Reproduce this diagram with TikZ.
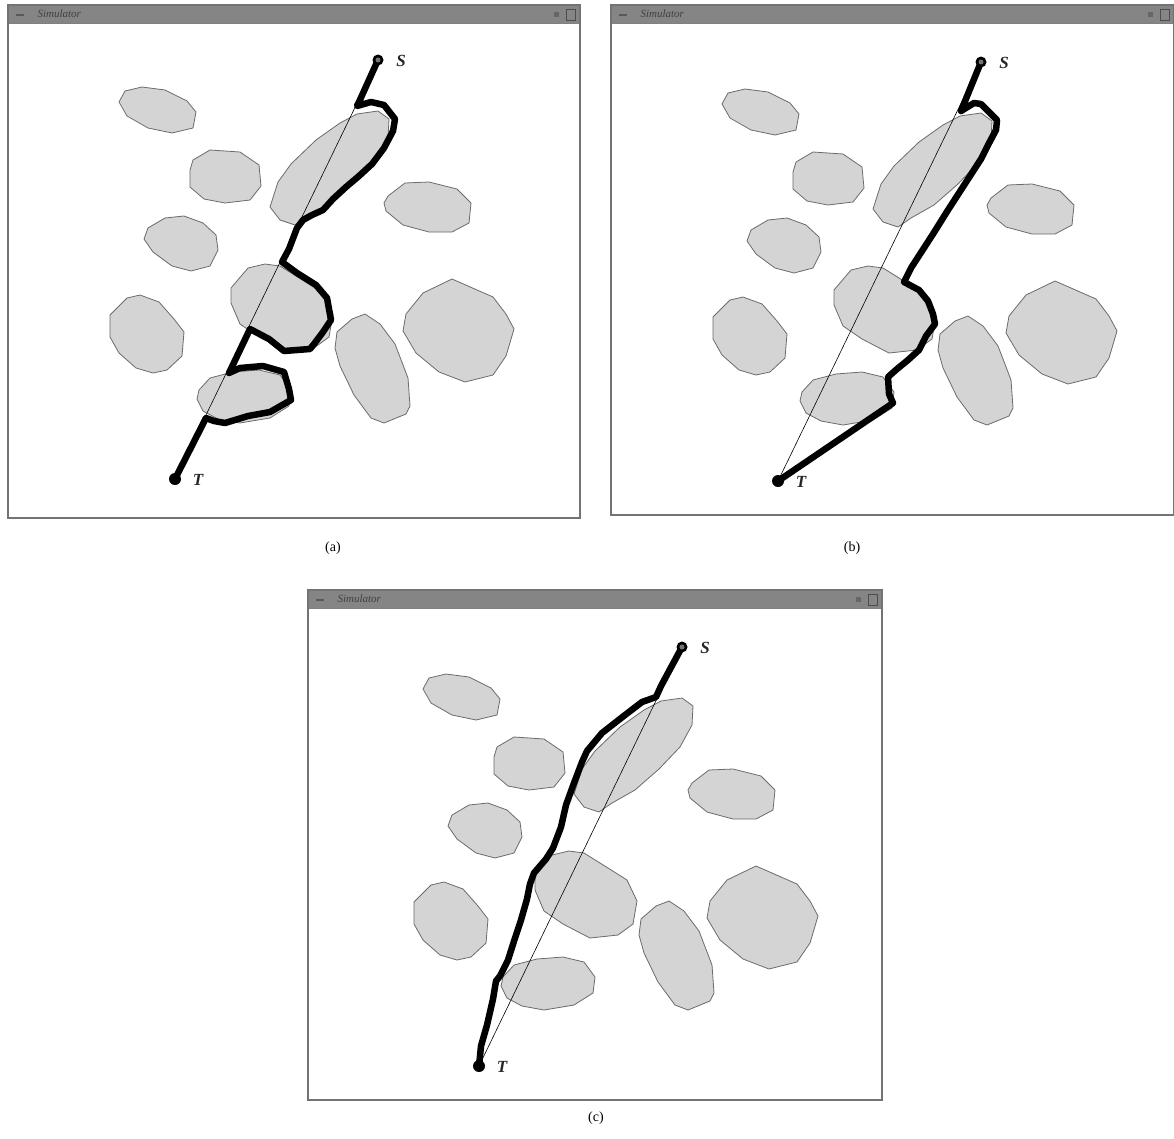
\documentclass[tikz,border=0pt]{standalone}
\usepackage{fontspec}
\setmainfont{Liberation Serif}
\definecolor{obsgray}{gray}{0.83}
\definecolor{obsedge}{gray}{0.42}
\definecolor{bargray}{gray}{0.52}

% window with title bar: name, x0, y0, x1, y1
\newcommand{\simwindow}[5]{%
  \fill[white] (#2,#3) rectangle (#4,#5);
  \fill[bargray] (#2,#3) rectangle (#4,#3+18);
  \draw[black!65,line width=1.5pt] (#2+8,#3+10)--(#2+16,#3+10);
  \node[anchor=west,text=black!75,font=\fontsize{11}{11}\selectfont\itshape] (#1title) at (#2+26,#3+9) {Simulator};
  \fill[black!60] (#4-26,#3+7) rectangle (#4-21,#3+12);
  \draw[black!70,line width=1pt] (#4-14,#3+4) rectangle (#4-5,#3+15);
  \draw[gray,line width=0.8pt] (#2,#3+18)--(#4,#3+18);
  \draw[window] (#2,#3) rectangle (#4,#5);
}

% the obstacles, same in all panels
\newcommand{\obstacles}{%
  \draw[obstacle] (111,97)--(117,86)--(134,82)--(157,85)--(179,96)--(188,107)--(185,123)--(164,128)--(140,123)--(119,111)--cycle;
  \draw[obstacle] (185,155)--(202,145)--(232,147)--(251,160)--(253,181)--(242,195)--(217,198)--(196,194)--(182,182)--(182,165)--cycle;
  \draw[obstacle] (262,202)--(270,177)--(283,159)--(308,135)--(332,118)--(349,109)--(370,106)--(381,114)--(380,133)--(368,155)--(347,177)--(323,198)--(300,211)--(287,220)--(272,215)--cycle;
  \draw[obstacle] (376,198)--(380,191)--(397,178)--(421,177)--(449,184)--(463,198)--(461,218)--(444,227)--(421,227)--(395,220)--(378,206)--cycle;
  \draw[obstacle] (140,223)--(157,213)--(176,211)--(195,218)--(208,230)--(210,245)--(202,261)--(183,266)--(164,261)--(145,247)--(136,234)--cycle;
  \draw[obstacle] (223,283)--(240,263)--(257,259)--(272,261)--(296,276)--(315,288)--(325,309)--(321,332)--(306,343)--(278,346)--(251,332)--(232,319)--(223,298)--cycle;
  \draw[obstacle] (102,310)--(119,293)--(132,290)--(151,297)--(166,314)--(176,327)--(174,351)--(159,365)--(145,368)--(128,363)--(111,348)--(102,332)--cycle;
  \draw[obstacle] (191,385)--(202,373)--(225,367)--(251,365)--(272,370)--(283,385)--(281,401)--(262,413)--(232,418)--(210,414)--(195,406)--(189,394)--cycle;
  \draw[obstacle] (329,327)--(344,314)--(357,309)--(372,319)--(387,339)--(400,373)--(402,401)--(398,409)--(376,418)--(363,413)--(346,390)--(332,361)--(327,343)--cycle;
  \draw[obstacle] (398,309)--(415,288)--(444,274)--(485,292)--(498,309)--(506,324)--(498,351)--(485,370)--(457,377)--(431,367)--(408,348)--(395,326)--cycle;
}

% start and goal markers: suffix
\newcommand{\markers}[1]{%
  \fill (S#1) circle(5.5pt);
  \fill[black!55] (S#1) circle(2.5pt);
  \fill (T#1) circle(6pt);
  \node[font=\bfseries\itshape\fontsize{17}{17}\selectfont,text=black!85] (labS#1) at (393,56) {S};
  \node[font=\bfseries\itshape\fontsize{17}{17}\selectfont,text=black!85] (labT#1) at (190,475) {T};
}

\begin{document}
\begin{tikzpicture}[x=1pt,y=-1pt,
    obstacle/.style={fill=obsgray,draw=obsedge,line width=0.8pt,line join=round},
    route/.style={line width=6.5pt,line join=round,line cap=round},
    direct/.style={line width=0.6pt},
    window/.style={draw=black!55,line width=2.5pt}]
  \useasboundingbox[fill=white] (0,0) rectangle (1174,1138);

  % (a)
  \begin{scope}[shift={(8,5)}]
    \simwindow{a}{0}{0}{572}{513}
    \obstacles
    \coordinate (Sa) at (370,55);
    \coordinate (Ta) at (167,474);
    \draw[direct] (Sa)--(Ta);
    \draw[route] (Sa)--(351,97)--(349,101)--(363,97)--(376,100)--(387,114)--(385,126)--(376,143)--(364,159)--(351,171)--(338,182)--(325,194)--(315,205)--(304,210)--(295,215)--(289,223)--(281,244)--(274,257)--(289,268)--(308,280)--(319,293)--(323,315)--(315,327)--(306,339)--(302,344)--(276,346)--(261,334)--(242,324)--(221,368)--(232,363)--(255,361)--(276,367)--(281,384)--(283,395)--(262,407)--(240,411)--(217,418)--(206,416)--(198,413)--(Ta);
    \markers{a}
  \end{scope}

  % (b)
  \begin{scope}[shift={(611,7)}]
    \simwindow{b}{0}{-2}{563}{508}
    \obstacles
    \coordinate (Sb) at (370,55);
    \coordinate (Tb) at (167,474);
    \draw[direct] (Sb)--(Tb);
    \draw[route] (Sb)--(350,104)--(363,96)--(370,97)--(386,113)--(385,123)--(377,138)--(370,152)--(359,169)--(348,186)--(337,203)--(322,227)--(311,244)--(300,261)--(293,275)--(308,283)--(317,294)--(322,307)--(324,317)--(315,329)--(308,343)--(297,353)--(286,362)--(277,370)--(278,387)--(282,396)--(Tb);
    \markers{b}
  \end{scope}

  % (c)
  \begin{scope}[shift={(312,592)}]
    \simwindow{c}{-4}{-2}{570}{508}
    \obstacles
    \coordinate (Sc) at (370,55);
    \coordinate (Tc) at (167,474);
    \draw[direct] (Sc)--(Tc);
    \draw[route] (Sc)--(349,94)--(344,105)--(330,110)--(313,123)--(290,141)--(275,159)--(270,170)--(262,191)--(254,213)--(249,235)--(241,256)--(234,267)--(222,281)--(218,292)--(215,307)--(209,328)--(203,346)--(196,368)--(188,384)--(184,389)--(181,407)--(175,433)--(169,454)--(Tc);
    \markers{c}
  \end{scope}

  \node[font=\fontsize{14}{14}\selectfont] (capa) at (333,548) {(a)};
  \node[font=\fontsize{14}{14}\selectfont] (capb) at (852,548) {(b)};
  \node[font=\fontsize{14}{14}\selectfont] (capc) at (596,1118) {(c)};
\end{tikzpicture}
\end{document}
